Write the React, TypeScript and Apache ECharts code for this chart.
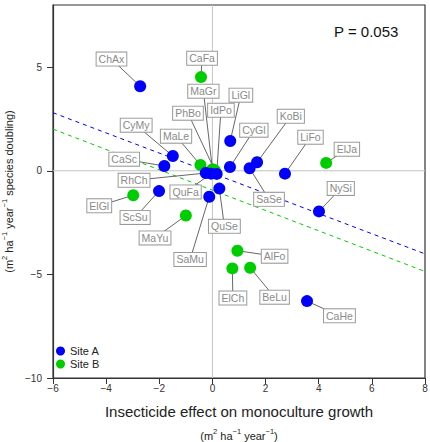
import React, { useEffect, useRef } from "react";
import * as echarts from "echarts";

// Site A (blue) points
const siteANames = ["ChAx", "LiGl", "CyGl", "KoBi", "SaSe", "LiFo", "NySi", "CaHe", "QuSe", "SaMu", "ScSu", "CaSc", "CyMy", "RhCh", "IdPo", "QuFa"];
const siteAX = [-2.72, 0.67, 0.66, 1.68, 1.4, 2.73, 4.01, 3.56, 0.26, -0.12, -2.01, -1.81, -1.49, -0.25, 0.16, -0.05];
const siteAY = [4.08, 1.44, 0.18, 0.41, 0.12, -0.14, -1.96, -6.29, -0.86, -1.25, -0.98, 0.23, 0.71, -0.11, -0.15, -0.14];

// Site B (green) points
const siteBNames = ["CaFa", "ElJa", "AlFo", "ElCh", "BeLu", "MaYu", "ElGl", "MaLe", "MaGr", "PhBo"];
const siteBX = [-0.43, 4.28, 0.94, 0.75, 1.42, -1.0, -2.98, -0.45, 0.0, 0.09];
const siteBY = [4.52, 0.38, -3.86, -4.71, -4.68, -2.16, -1.18, 0.28, 0.07, 0.02];

// Label box positions (data units)
const labelNames = ["ChAx", "CaFa", "MaGr", "LiGl", "PhBo", "IdPo", "CyMy", "MaLe", "CyGl", "KoBi", "LiFo", "ElJa", "CaSc", "RhCh", "ElGl", "QuFa", "ScSu", "MaYu", "SaMu", "QuSe", "SaSe", "NySi", "AlFo", "ElCh", "BeLu", "CaHe"];
const labelX = [-3.8, -0.39, -0.34, 1.07, -0.92, 0.32, -2.87, -1.37, 1.56, 2.95, 3.69, 5.06, -3.32, -2.95, -4.26, -1.01, -2.91, -2.16, -0.84, 0.45, 2.13, 4.83, 2.34, 0.77, 2.34, 4.78];
const labelY = [5.39, 5.43, 3.84, 3.65, 2.78, 2.92, 2.2, 1.67, 1.96, 2.63, 1.62, 1.04, 0.56, -0.46, -1.69, -1.02, -2.25, -3.24, -4.28, -2.68, -1.38, -0.85, -4.12, -6.14, -6.1, -7.0];

// Regression lines (endpoints)
const fitAX = [-6, 8];
const fitAY = [2.8, -4.01];
const fitBX = [-6, 8];
const fitBY = [2.01, -4.86];

// Axes
const xTicks = [-6, -4, -2, 0, 2, 4, 6, 8];
const yTicks = [-10, -5, 0, 5];
const xMin = -6, xMax = 8, yMin = -10, yMax = 8;

const FONT = '"Liberation Sans", Arial, Helvetica, sans-serif';
const BLUE = "#0000FF";
const GREEN = "#00CD00";

function minus(v: number | string) {
  return String(v).replace("-", "\u2212");
}

export default function App() {
  const ref = useRef<HTMLDivElement>(null);
  useEffect(() => {
    if (!ref.current) return;
    const chart = echarts.init(ref.current, undefined, { renderer: "svg" });

    const lookup: Record<string, [number, number]> = {};
    siteANames.forEach((n, i) => (lookup[n] = [siteAX[i], siteAY[i]]));
    siteBNames.forEach((n, i) => (lookup[n] = [siteBX[i], siteBY[i]]));
    const leaderData = labelNames.map((n, i) => [lookup[n][0], lookup[n][1], labelX[i], labelY[i]]);
    const boxData = labelNames.map((n, i) => [labelX[i], labelY[i]]);

    const supRich = {
      b: { fontSize: 11, fontFamily: FONT, color: "#222", verticalAlign: "bottom", lineHeight: 14 },
      s: { fontSize: 7.5, fontFamily: FONT, color: "#222", verticalAlign: "top", lineHeight: 14 },
    };

    chart.setOption({
      animation: false,
      textStyle: { fontFamily: FONT },
      grid: {
        left: 53, right: 5, top: 5, bottom: 64,
        outerBoundsMode: "none",
        containLabel: false,
        show: true, borderColor: "#333", borderWidth: 1.2, backgroundColor: "transparent",
      },
      legend: {
        data: ["Site A", "Site B"],
        orient: "vertical",
        left: 51,
        top: 340.5,
        icon: "circle",
        itemWidth: 9,
        itemHeight: 9,
        itemGap: 2,
        itemTextGap: 5,
        textStyle: { fontSize: 11, color: "#222", fontFamily: FONT },
      },
      xAxis: {
        type: "value",
        min: xMin,
        max: xMax,
        interval: 2,
        name: "Insecticide effect on monoculture growth",
        nameLocation: "middle",
        nameGap: 26,
        nameTextStyle: { fontSize: 15, color: "#222", fontFamily: FONT },
        axisLine: { show: true, onZero: false, lineStyle: { color: "#333", width: 1.2 } },
        axisTick: { show: true, inside: false, length: 6, lineStyle: { color: "#333" }, customValues: xTicks },
        axisLabel: { fontSize: 10, color: "#333", margin: 5, formatter: (v: number) => minus(v), customValues: xTicks },
        splitLine: { show: false },
      },
      yAxis: {
        type: "value",
        min: yMin,
        max: yMax,
        interval: 5,
        name: "{b|(m}{s|2}{b| ha}{s|\u22121}{b| year}{s|\u22121}{b| species doubling)}",
        nameLocation: "middle",
        nameRotate: 90,
        nameGap: 25,
        nameTextStyle: { fontSize: 11, color: "#222", fontFamily: FONT, rich: supRich },
        axisLine: { show: true, onZero: false, lineStyle: { color: "#333", width: 1.2 } },
        axisTick: { show: true, inside: false, length: 6, lineStyle: { color: "#333" }, customValues: yTicks },
        axisLabel: { fontSize: 10, color: "#333", margin: 11, formatter: (v: number) => minus(v), customValues: yTicks },
        splitLine: { show: false },
      },
      graphic: [
        {
          type: "text",
          x: 239,
          y: 434,
          style: {
            text: "{b|(m}{s|2}{b| ha}{s|\u22121}{b| year}{s|\u22121}{b|)}",
            rich: supRich,
            fontFamily: FONT,
            fill: "#222",
            align: "center",
            verticalAlign: "middle",
          },
        },
        {
          type: "text",
          x: 334,
          y: 31,
          style: { text: "P = 0.053", fontSize: 15, fontFamily: FONT, fill: "#111", align: "left", verticalAlign: "middle" },
        },
      ],
      series: [
        {
          type: "line",
          data: [[xMin, 0], [xMax, 0]],
          showSymbol: false,
          silent: true,
          lineStyle: { color: "#c4c4c4", width: 1 },
          z: 1,
        },
        {
          type: "line",
          data: [[0, yMin], [0, yMax]],
          showSymbol: false,
          silent: true,
          lineStyle: { color: "#c4c4c4", width: 1 },
          z: 1,
        },
        {
          type: "line",
          data: fitAX.map((x, i) => [x, fitAY[i]]),
          showSymbol: false,
          silent: true,
          lineStyle: { color: BLUE, width: 1, type: [4, 4] },
          z: 2,
        },
        {
          type: "line",
          data: fitBX.map((x, i) => [x, fitBY[i]]),
          showSymbol: false,
          silent: true,
          lineStyle: { color: GREEN, width: 1, type: [4, 4] },
          z: 2,
        },
        {
          type: "custom",
          data: leaderData,
          encode: { x: [0, 2], y: [1, 3] },
          silent: true,
          clip: false,
          z: 3,
          renderItem: (params: any, api: any) => {
            const p = api.coord([api.value(0), api.value(1)]);
            const l = api.coord([api.value(2), api.value(3)]);
            return {
              type: "line",
              shape: { x1: p[0], y1: p[1], x2: l[0], y2: l[1] },
              style: { stroke: "#666", lineWidth: 1 },
            };
          },
        },
        {
          type: "custom",
          data: boxData,
          encode: { x: 0, y: 1 },
          silent: true,
          clip: false,
          z: 4,
          renderItem: (params: any, api: any) => {
            const l = api.coord([api.value(0), api.value(1)]);
            return {
              type: "text",
              x: l[0],
              y: l[1],
              style: {
                text: labelNames[params.dataIndex],
                fontSize: 10.5,
                fontFamily: FONT,
                fill: "#8a8a8a",
                align: "center",
                verticalAlign: "middle",
                backgroundColor: "#fff",
                borderColor: "#999",
                borderWidth: 1,
                padding: [1.5, 2, 0.5, 2],
              },
            };
          },
        },
        {
          name: "Site B",
          type: "scatter",
          data: siteBX.map((x, i) => [x, siteBY[i]]),
          symbol: "circle",
          symbolSize: 12,
          itemStyle: { color: GREEN, opacity: 1 },
          z: 5,
        },
        {
          name: "Site A",
          type: "scatter",
          data: siteAX.map((x, i) => [x, siteAY[i]]),
          symbol: "circle",
          symbolSize: 12,
          itemStyle: { color: BLUE, opacity: 1 },
          z: 6,
        },
      ],
    });
    return () => chart.dispose();
  }, []);
  return <div ref={ref} style={{ width: 430, height: 442, position: "absolute", left: 0, top: 0 }} />;
}
